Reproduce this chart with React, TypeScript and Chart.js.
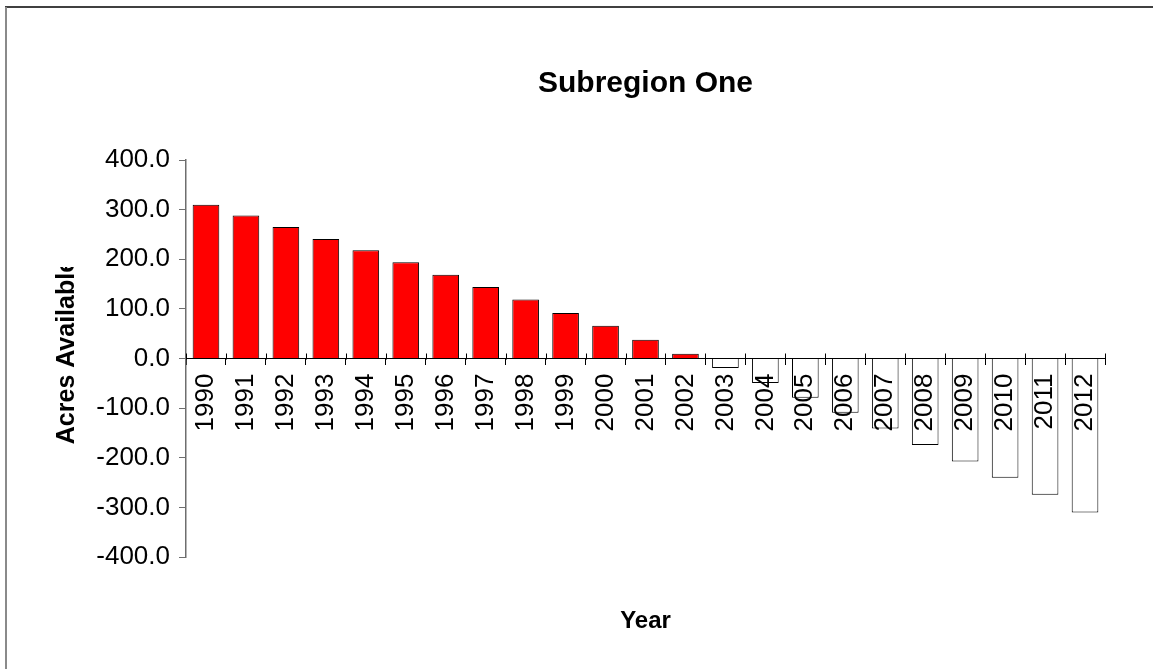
import React, { useEffect, useRef } from "react";
import { Chart, registerables } from "chart.js";

Chart.register(...registerables);

const FONT = '"Liberation Sans", Arial, Helvetica, sans-serif';

// Year categories along the horizontal axis
const years = [
  "1990", "1991", "1992", "1993", "1994", "1995", "1996", "1997",
  "1998", "1999", "2000", "2001", "2002", "2003", "2004", "2005",
  "2006", "2007", "2008", "2009", "2010", "2011", "2012",
];

// Acres still available in each year (negative = shortfall)
const acresAvailable = [
  310, 288, 265, 241, 218, 194, 169, 144, 119, 92, 66, 38, 10,
  -19, -49, -79, -109, -141, -174, -207, -240, -274, -310,
];

// Value axis range
const yMin = -400;
const yMax = 400;
const yStep = 100;

const chartTitle = "Subregion One";
const xAxisTitle = "Year";
const yAxisTitle = "Acres Available";

// White page, with the outer frame's top and left edges
const framePlugin = {
  id: "frame",
  beforeDraw(chart: any) {
    const { ctx, width, height } = chart;
    ctx.save();
    ctx.fillStyle = "#ffffff";
    ctx.fillRect(0, 0, width, height);
    ctx.strokeStyle = "#000000";
    ctx.lineWidth = 1.5;
    ctx.beginPath();
    ctx.moveTo(5, 7);
    ctx.lineTo(width, 7);
    ctx.stroke();
    ctx.strokeStyle = "#8a8a8a";
    ctx.lineWidth = 2;
    ctx.beginPath();
    ctx.moveTo(6, 7);
    ctx.lineTo(6, height);
    ctx.stroke();
    ctx.restore();
  },
};

// Category tick marks cross the zero line: add the upper half
const crossTickPlugin = {
  id: "crossTicks",
  afterDatasetsDraw(chart: any) {
    const x = chart.scales.x;
    const y = chart.scales.y;
    const ctx = chart.ctx;
    const zero = Math.round(y.getPixelForValue(0)) + 0.5;
    const n = years.length;
    const w = (x.right - x.left) / n;
    ctx.save();
    ctx.strokeStyle = "#000000";
    ctx.lineWidth = 1;
    ctx.beginPath();
    for (let i = 0; i <= n; i++) {
      const px = Math.round(x.left + i * w) + 0.5;
      ctx.moveTo(px, zero - 6);
      ctx.lineTo(px, zero);
    }
    ctx.stroke();
    ctx.restore();
  },
};

// Vertical value-axis title, cut off at the top of its box
const yTitlePlugin = {
  id: "yTitle",
  afterDraw(chart: any) {
    const { ctx, chartArea } = chart;
    ctx.save();
    ctx.beginPath();
    ctx.rect(0, chartArea.top + 107, chartArea.left, chart.height);
    ctx.clip();
    ctx.translate(chartArea.left - 112, chartArea.bottom - 113);
    ctx.rotate(-Math.PI / 2);
    ctx.font = `bold 25px ${FONT}`;
    ctx.fillStyle = "#000000";
    ctx.textAlign = "left";
    ctx.textBaseline = "alphabetic";
    ctx.fillText(yAxisTitle, 0, 0);
    ctx.restore();
  },
};

export default function App() {
  const canvasRef = useRef<HTMLCanvasElement | null>(null);

  useEffect(() => {
    if (!canvasRef.current) return;
    const chart = new Chart(canvasRef.current, {
      type: "bar",
      data: {
        labels: years,
        datasets: [
          {
            label: yAxisTitle,
            data: acresAvailable,
            backgroundColor: acresAvailable.map((v) => (v >= 0 ? "#ff0000" : "#ffffff")),
            borderColor: "#000000",
            borderWidth: 1,
            barPercentage: 0.667,
            categoryPercentage: 1,
          },
        ],
      },
      options: {
        responsive: false,
        animation: false,
        layout: { padding: { left: 0, right: 48, top: 0, bottom: 0 } },
        plugins: {
          legend: { display: false },
          tooltip: { enabled: false },
          title: {
            display: true,
            text: chartTitle,
            color: "#000000",
            fullSize: false,
            font: { family: FONT, size: 30, weight: "bold" },
            padding: { top: 66, bottom: 58 },
          },
          subtitle: {
            display: true,
            position: "bottom",
            text: xAxisTitle,
            color: "#000000",
            fullSize: false,
            font: { family: FONT, size: 24, weight: "bold" },
            padding: { top: 50, bottom: 33 },
          },
        },
        scales: {
          x: {
            type: "category",
            position: { y: 0 } as any,
            grid: {
              drawOnChartArea: false,
              drawTicks: true,
              tickLength: 6,
              offset: true,
              color: "#000000",
            },
            border: { display: true, color: "#000000", width: 1 },
            ticks: {
              z: 1,
              autoSkip: false,
              minRotation: 90,
              maxRotation: 90,
              padding: 9,
              color: "#000000",
              font: { family: FONT, size: 26 },
            },
          },
          y: {
            min: yMin,
            max: yMax,
            afterFit(scale: any) {
              scale.width = 186;
            },
            grid: {
              drawOnChartArea: false,
              drawTicks: true,
              tickLength: 7,
              color: "#6e6e6e",
            },
            border: { display: true, color: "#6e6e6e", width: 1.5 },
            ticks: {
              stepSize: yStep,
              padding: 9,
              color: "#000000",
              font: { family: FONT, size: 26 },
              callback: (v: any) => Number(v).toFixed(1),
            },
          },
        },
      },
      plugins: [framePlugin, crossTickPlugin, yTitlePlugin],
    });
    return () => chart.destroy();
  }, []);

  return (
    <div style={{ position: "fixed", left: 0, top: 0, width: 1153, height: 669, background: "#ffffff" }}>
      <canvas ref={canvasRef} width={1153} height={669} style={{ display: "block" }} />
    </div>
  );
}
